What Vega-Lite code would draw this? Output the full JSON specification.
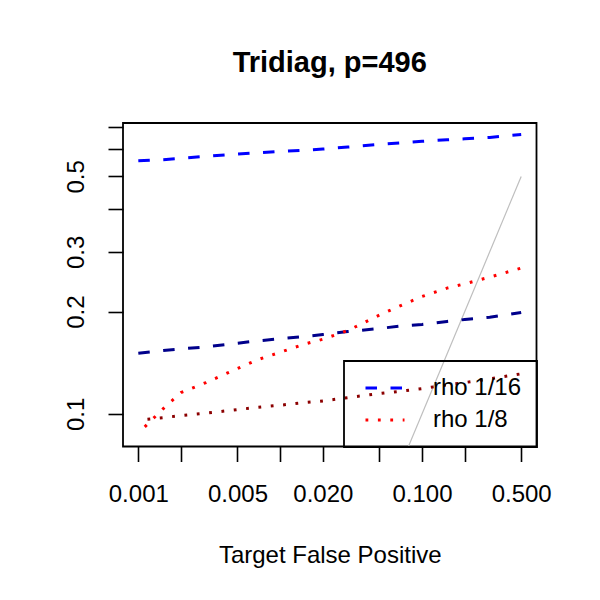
{
  "$schema": "https://vega.github.io/schema/vega-lite/v6.json",
  "width": 413.5,
  "height": 323.5,
  "autosize": {"type": "none"},
  "padding": {"left": 123, "top": 123, "right": 63.5, "bottom": 153.5},
  "background": "white",
  "title": {
    "text": "Tridiag, p=496",
    "font": "Liberation Sans",
    "fontSize": 29,
    "fontWeight": "bold",
    "color": "black",
    "anchor": "middle",
    "frame": "group",
    "baseline": "alphabetic",
    "offset": 22
  },
  "config": {
    "font": "Liberation Sans",
    "view": {"stroke": "black", "strokeWidth": 1.8},
    "axis": {
      "grid": false,
      "domain": false,
      "ticks": true,
      "tickColor": "black",
      "tickWidth": 1.6,
      "tickSize": 15,
      "labelFont": "Liberation Sans",
      "labelFontSize": 24,
      "labelColor": "black",
      "labelOverlap": false,
      "titleFont": "Liberation Sans",
      "titleFontSize": 24,
      "titleFontWeight": "normal",
      "titleColor": "black"
    },
    "legend": {"strokeWidth": 1.8}
  },
  "datasets": {
    "curves": [
      {"fp": 0.001, "value": 0.556, "series": "rho 1/16"},
      {"fp": 0.0015, "value": 0.560, "series": "rho 1/16"},
      {"fp": 0.002, "value": 0.565, "series": "rho 1/16"},
      {"fp": 0.003, "value": 0.573, "series": "rho 1/16"},
      {"fp": 0.005, "value": 0.582, "series": "rho 1/16"},
      {"fp": 0.007, "value": 0.587, "series": "rho 1/16"},
      {"fp": 0.01, "value": 0.592, "series": "rho 1/16"},
      {"fp": 0.015, "value": 0.597, "series": "rho 1/16"},
      {"fp": 0.02, "value": 0.602, "series": "rho 1/16"},
      {"fp": 0.03, "value": 0.610, "series": "rho 1/16"},
      {"fp": 0.05, "value": 0.621, "series": "rho 1/16"},
      {"fp": 0.07, "value": 0.627, "series": "rho 1/16"},
      {"fp": 0.1, "value": 0.634, "series": "rho 1/16"},
      {"fp": 0.15, "value": 0.641, "series": "rho 1/16"},
      {"fp": 0.2, "value": 0.645, "series": "rho 1/16"},
      {"fp": 0.3, "value": 0.651, "series": "rho 1/16"},
      {"fp": 0.5, "value": 0.664, "series": "rho 1/16"},

      {"fp": 0.001, "value": 0.1509, "series": "rho 1/16, alt"},
      {"fp": 0.0015, "value": 0.1536, "series": "rho 1/16, alt"},
      {"fp": 0.002, "value": 0.1554, "series": "rho 1/16, alt"},
      {"fp": 0.003, "value": 0.1575, "series": "rho 1/16, alt"},
      {"fp": 0.005, "value": 0.1615, "series": "rho 1/16, alt"},
      {"fp": 0.007, "value": 0.1641, "series": "rho 1/16, alt"},
      {"fp": 0.01, "value": 0.1664, "series": "rho 1/16, alt"},
      {"fp": 0.015, "value": 0.1690, "series": "rho 1/16, alt"},
      {"fp": 0.02, "value": 0.1713, "series": "rho 1/16, alt"},
      {"fp": 0.03, "value": 0.1748, "series": "rho 1/16, alt"},
      {"fp": 0.05, "value": 0.1784, "series": "rho 1/16, alt"},
      {"fp": 0.07, "value": 0.1813, "series": "rho 1/16, alt"},
      {"fp": 0.1, "value": 0.1833, "series": "rho 1/16, alt"},
      {"fp": 0.15, "value": 0.1871, "series": "rho 1/16, alt"},
      {"fp": 0.2, "value": 0.1896, "series": "rho 1/16, alt"},
      {"fp": 0.3, "value": 0.1926, "series": "rho 1/16, alt"},
      {"fp": 0.5, "value": 0.1988, "series": "rho 1/16, alt"},

      {"fp": 0.00111, "value": 0.0916, "series": "rho 1/8"},
      {"fp": 0.0015, "value": 0.1037, "series": "rho 1/8"},
      {"fp": 0.002, "value": 0.1156, "series": "rho 1/8"},
      {"fp": 0.003, "value": 0.1237, "series": "rho 1/8"},
      {"fp": 0.005, "value": 0.1360, "series": "rho 1/8"},
      {"fp": 0.007, "value": 0.1446, "series": "rho 1/8"},
      {"fp": 0.01, "value": 0.1519, "series": "rho 1/8"},
      {"fp": 0.015, "value": 0.1607, "series": "rho 1/8"},
      {"fp": 0.02, "value": 0.1659, "series": "rho 1/8"},
      {"fp": 0.03, "value": 0.1760, "series": "rho 1/8"},
      {"fp": 0.05, "value": 0.1953, "series": "rho 1/8"},
      {"fp": 0.07, "value": 0.2080, "series": "rho 1/8"},
      {"fp": 0.1, "value": 0.2216, "series": "rho 1/8"},
      {"fp": 0.15, "value": 0.2345, "series": "rho 1/8"},
      {"fp": 0.2, "value": 0.2415, "series": "rho 1/8"},
      {"fp": 0.3, "value": 0.2527, "series": "rho 1/8"},
      {"fp": 0.5, "value": 0.2686, "series": "rho 1/8"},

      {"fp": 0.00116, "value": 0.0965, "series": "rho 1/8, alt"},
      {"fp": 0.0015, "value": 0.0975, "series": "rho 1/8, alt"},
      {"fp": 0.002, "value": 0.0989, "series": "rho 1/8, alt"},
      {"fp": 0.003, "value": 0.1005, "series": "rho 1/8, alt"},
      {"fp": 0.005, "value": 0.1030, "series": "rho 1/8, alt"},
      {"fp": 0.007, "value": 0.1046, "series": "rho 1/8, alt"},
      {"fp": 0.01, "value": 0.1061, "series": "rho 1/8, alt"},
      {"fp": 0.015, "value": 0.1080, "series": "rho 1/8, alt"},
      {"fp": 0.02, "value": 0.1092, "series": "rho 1/8, alt"},
      {"fp": 0.03, "value": 0.1117, "series": "rho 1/8, alt"},
      {"fp": 0.05, "value": 0.1148, "series": "rho 1/8, alt"},
      {"fp": 0.07, "value": 0.1166, "series": "rho 1/8, alt"},
      {"fp": 0.1, "value": 0.1187, "series": "rho 1/8, alt"},
      {"fp": 0.15, "value": 0.1218, "series": "rho 1/8, alt"},
      {"fp": 0.2, "value": 0.1237, "series": "rho 1/8, alt"},
      {"fp": 0.3, "value": 0.1268, "series": "rho 1/8, alt"},
      {"fp": 0.5, "value": 0.1312, "series": "rho 1/8, alt"}
    ],
    "diagonal": [
      {"fp": 0.001, "value": 0.001},
      {"fp": 0.5, "value": 0.5}
    ]
  },
  "encoding": {
    "x": {
      "field": "fp",
      "type": "quantitative",
      "scale": {"type": "log", "domain": [0.00078, 0.641], "nice": false, "zero": false},
      "axis": {
        "title": "Target False Positive",
        "values": [0.001, 0.002, 0.005, 0.01, 0.02, 0.05, 0.1, 0.2, 0.5],
        "labelExpr": "indexof([0.002, 0.01, 0.05, 0.2], datum.value) >= 0 ? '' : format(datum.value, '.3f')",
        "labelBaseline": "alphabetic",
        "labelPadding": 40,
        "titleBaseline": "alphabetic",
        "titleY": 115.8
      }
    },
    "y": {
      "field": "value",
      "type": "quantitative",
      "scale": {"type": "log", "domain": [0.0802, 0.718], "nice": false, "zero": false},
      "axis": {
        "title": null,
        "values": [0.1, 0.2, 0.3, 0.4, 0.5, 0.6, 0.7],
        "labelExpr": "indexof([0.1, 0.2, 0.3, 0.5], datum.value) >= 0 ? format(datum.value, '.1f') : ''",
        "labelAngle": -90,
        "labelAlign": "center",
        "labelBaseline": "alphabetic",
        "labelPadding": 24.5
      }
    }
  },
  "layer": [
    {
      "data": {"name": "diagonal"},
      "mark": {"type": "line", "color": "#bebebe", "strokeWidth": 1.2, "clip": true}
    },
    {
      "data": {"name": "curves"},
      "mark": {"type": "line", "strokeWidth": 3, "strokeCap": "butt", "clip": true},
      "encoding": {
        "color": {
          "field": "series",
          "type": "nominal",
          "scale": {
            "domain": ["rho 1/16", "rho 1/8", "rho 1/16, alt", "rho 1/8, alt"],
            "range": ["#0000ff", "#ff0000", "#00008b", "#8b0000"]
          },
          "legend": {
            "values": ["rho 1/16", "rho 1/8"],
            "title": null,
            "orient": "bottom-right",
            "offset": 0,
            "symbolType": "M-1,0H2.9",
            "symbolSize": 400,
            "symbolStrokeWidth": 3,
            "labelFont": "Liberation Sans",
            "labelFontSize": 24,
            "labelColor": "black",
            "strokeColor": "black",
            "fillColor": null,
            "padding": 15,
            "rowPadding": 8,
            "symbolOffset": 4.5,
            "labelOffset": 45.5
          }
        },
        "strokeDash": {
          "field": "series",
          "type": "nominal",
          "scale": {
            "domain": ["rho 1/16", "rho 1/8", "rho 1/16, alt", "rho 1/8, alt"],
            "range": [[11.5, 13.5], [2.8, 9.6], [11.5, 13.5], [2.8, 9.6]]
          },
          "legend": {
            "values": ["rho 1/16", "rho 1/8"],
            "title": null,
            "orient": "bottom-right",
            "offset": 0,
            "symbolType": "M-1,0H2.9",
            "symbolSize": 400,
            "symbolStrokeWidth": 3,
            "labelFont": "Liberation Sans",
            "labelFontSize": 24,
            "labelColor": "black",
            "strokeColor": "black",
            "fillColor": null,
            "padding": 15,
            "rowPadding": 8,
            "symbolOffset": 4.5,
            "labelOffset": 45.5
          }
        }
      }
    }
  ]
}
